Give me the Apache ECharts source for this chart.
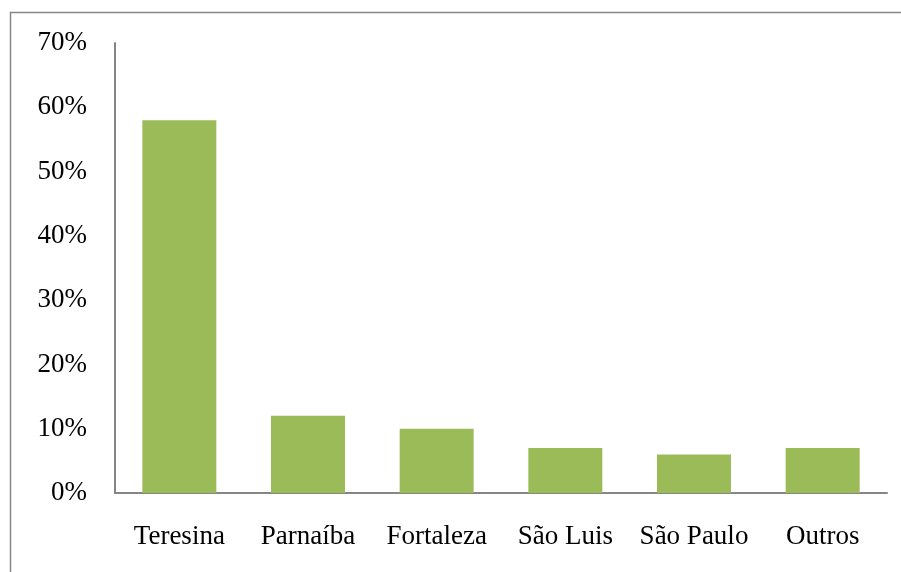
<!DOCTYPE html>
<html>
<head>
<meta charset="utf-8">
<script src="https://cdn.jsdelivr.net/npm/echarts@6/dist/echarts.min.js"></script>
<style>
  html, body { margin: 0; padding: 0; background: #fff; }
  #chart { width: 901px; height: 572px; }
</style>
</head>
<body>
<div id="chart"></div>
<script>
  // dados do gráfico
  var cidades = ['Teresina', 'Parnaíba', 'Fortaleza', 'São Luis', 'São Paulo', 'Outros'];
  var percentuais = [58, 12, 10, 7, 6, 7];

  var myChart = echarts.init(document.getElementById('chart'));
  var option = {
    animation: false,
    graphic: [
      {
        type: 'rect',
        shape: { x: 10.5, y: 12.5, width: 1000, height: 1000 },
        style: { fill: 'none', stroke: '#868686', lineWidth: 1.5 },
        silent: true
      }
    ],
    grid: {
      left: 115,
      right: 14,
      top: 43,
      bottom: 79,
      containLabel: false
    },
    xAxis: {
      type: 'category',
      data: cidades,
      axisTick: { show: false },
      axisLine: { lineStyle: { color: '#868686', width: 2 } },
      axisLabel: {
        color: '#000',
        fontFamily: 'Liberation Serif',
        fontSize: 27,
        margin: 30,
        interval: 0
      }
    },
    yAxis: {
      type: 'value',
      min: 0,
      max: 70,
      interval: 10,
      axisLine: { show: true, lineStyle: { color: '#868686', width: 2 } },
      axisTick: { show: false },
      splitLine: { show: false },
      axisLabel: {
        color: '#000',
        fontFamily: 'Liberation Serif',
        fontSize: 27,
        margin: 28,
        formatter: '{value}%'
      }
    },
    series: [
      {
        type: 'bar',
        data: percentuais,
        barWidth: '57.5%',
        itemStyle: { color: '#9BBB59' },
        silent: true
      }
    ]
  };
  myChart.setOption(option);
</script>
</body>
</html>
